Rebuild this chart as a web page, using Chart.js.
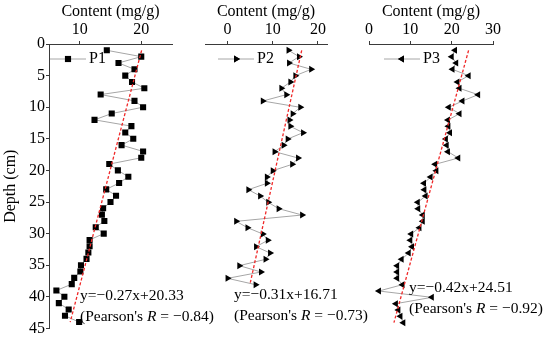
<!DOCTYPE html>
<html>
<head>
<meta charset="utf-8">
<script src="https://cdn.jsdelivr.net/npm/chart.js@4.4.0/dist/chart.umd.min.js"></script>
<style>
  html, body { margin: 0; padding: 0; background: #fff; }
  #wrap { position: relative; width: 550px; height: 339px; }
  #wrap canvas { position: absolute; left: 0; top: 0; }
</style>
</head>
<body>
<div id="wrap">
  <canvas id="c1" width="550" height="339"></canvas>
  <canvas id="c2" width="550" height="339"></canvas>
  <canvas id="c3" width="550" height="339"></canvas>
</div>
<script>
// depth (cm) of each sample
const depthP1 = [1,2,3,4,5,6,7,8,9,10,11,12,13,14,15,16,17,18,19,20,21,22,23,24,25,26,27,28,29,30,31,32,33,34,35,36,37,38,39,40,41,42,43,44];
const depthP2 = [1,2,3,4,5,6,7,8,9,10,11,12,13,14,15,16,17,18,19,20,21,22,23,24,25,26,27,28,29,30,31,32,33,34,35,36,37,38];
const depthP3 = [1,2,3,4,5,6,7,8,9,10,11,12,13,14,15,16,17,18,19,20,21,22,23,24,25,26,27,28,29,30,31,32,33,34,35,36,37,38,39,40,41,42,43,44];

// content (mg/g)
const contentP1 = [14.4,20.0,16.3,18.9,17.4,18.5,20.5,13.4,18.9,20.3,15.2,12.4,18.4,17.4,18.7,16.8,20.3,20.0,14.8,16.2,
  17.9,16.4,14.3,15.9,15.0,13.8,13.6,14.0,12.6,13.9,11.6,11.6,11.4,11.1,10.2,10.1,9.1,8.7,6.2,7.5,6.6,8.2,7.6,9.9];
const contentP2 = [13.5,15.8,13.6,18.5,15.0,13.9,11.9,13.0,7.8,16.1,14.4,13.7,13.9,16.7,13.3,12.4,10.4,15.6,14.3,10.0,
  8.7,8.7,4.6,7.2,9.0,11.3,16.5,1.9,4.4,7.8,8.9,6.3,9.4,8.4,2.6,7.4,0.0,6.2];
const contentP3 = [20.8,20.0,21.1,20.2,24.1,21.4,21.9,26.4,22.6,19.3,21.9,19.1,19.2,19.6,18.6,18.8,19.1,21.6,16.0,16.3,
  14.9,13.3,13.4,13.7,11.8,11.9,13.0,13.0,12.2,10.2,10.0,10.4,9.6,7.9,6.8,6.8,6.8,8.1,2.4,15.2,6.5,7.1,7.6,8.3];

// linear fits printed on the figure: content = slope * depth + intercept
const fitSlope = [-0.27, -0.31, -0.42];
const fitIntercept = [20.33, 16.71, 24.51];
const pearsonR = ['−0.84', '−0.73', '−0.92'];

const xTicksP1 = [10, 20];
const xTicksP2 = [0, 10, 20];
const xTicksP3 = [0, 10, 20, 30];
const depthTicks = [0, 5, 10, 15, 20, 25, 30, 35, 40, 45];

const SERIF = "'Liberation Serif', 'Times New Roman', serif";
const INK = '#000';
const AXIS = '#3a3a3a';

function fmt(v) { return v.toFixed(2); }

// legend + equation text
const textPlugin = {
  id: 'panelText',
  afterDraw(chart) {
    const o = chart.options.plugins.panelText;
    const ctx = chart.ctx;
    const ca = chart.chartArea;
    ctx.save();
    // legend
    const ly = 59;
    const lx = ca.left + o.legendDx;
    ctx.strokeStyle = '#a6a6a6';
    ctx.lineWidth = 1;
    ctx.beginPath();
    ctx.moveTo(lx, ly);
    ctx.lineTo(lx + 36, ly);
    ctx.stroke();
    ctx.fillStyle = '#000';
    Chart.helpers.drawPoint(ctx, { pointStyle: o.style, rotation: o.rot, radius: o.radius, borderWidth: 0 }, lx + 18, ly);
    ctx.fill();
    ctx.font = '16px ' + SERIF;
    ctx.textBaseline = 'middle';
    ctx.textAlign = 'left';
    ctx.fillStyle = INK;
    ctx.fillText(o.name, lx + 39, ly);

    // equation
    const i = o.idx;
    const b = fitIntercept[i];
    const a = fitSlope[i];
    ctx.font = '15.5px ' + SERIF;
    ctx.fillText('y=−' + fmt(-a) + 'x+' + fmt(b), o.eqX, o.eqY);
    let x = o.eqX;
    const y2 = o.eqY + 21;
    const p1 = "(Pearson's ";
    ctx.fillText(p1, x, y2);
    x += ctx.measureText(p1).width;
    ctx.font = 'italic 15.5px ' + SERIF;
    ctx.fillText('R', x, y2);
    x += ctx.measureText('R').width;
    ctx.font = '15.5px ' + SERIF;
    ctx.fillText(' = ' + pearsonR[i] + ')', x, y2);
    ctx.restore();
  }
};

function makePanel(id, p) {
  const pts = p.depth.map((d, i) => ({ x: p.content[i], y: d }));
  const d0 = p.depth[0], d1 = p.depth[p.depth.length - 1];
  const a = fitSlope[p.idx], b = fitIntercept[p.idx];
  const fit = [{ x: a * d0 + b, y: d0 }, { x: a * d1 + b, y: d1 }];

  return new Chart(document.getElementById(id), {
    type: 'scatter',
    data: {
      datasets: [
        {
          label: p.name,
          data: pts,
          showLine: true,
          borderColor: '#a6a6a6',
          borderWidth: 1,
          pointStyle: p.style,
          rotation: p.rot,
          pointRadius: p.radius,
          pointBackgroundColor: '#000',
          pointBorderColor: '#000',
          pointBorderWidth: 0,
          order: 1
        },
        {
          label: 'fit',
          data: fit,
          showLine: true,
          borderColor: '#f02828',
          borderWidth: 1.3,
          borderDash: [3, 2],
          pointRadius: 0,
          order: 0
        }
      ]
    },
    options: {
      responsive: false,
      animation: false,
      events: [],
      layout: { padding: { left: p.padL, right: p.padR, top: 0, bottom: 10 } },
      plugins: {
        legend: { display: false },
        tooltip: { enabled: false },
        panelText: { name: p.name, idx: p.idx, style: p.style, rot: p.rot, radius: p.radius,
                     legendDx: p.legendDx, eqX: p.eqX, eqY: p.eqY }
      },
      scales: {
        x: {
          type: 'linear',
          position: 'top',
          min: p.xmin,
          max: p.xmax,
          afterBuildTicks: s => { s.ticks = p.ticks.map(v => ({ value: v })); },
          afterFit: s => { s.height = 44; },
          grid: { drawOnChartArea: false, tickLength: 3, color: AXIS },
          border: { color: AXIS, width: 1 },
          ticks: { color: INK, font: { family: SERIF, size: 16 }, padding: 2, maxRotation: 0 },
          title: { display: true, text: 'Content (mg/g)', color: INK,
                   font: { family: SERIF, size: 16 }, padding: { top: 2, bottom: 0 } }
        },
        y: {
          type: 'linear',
          reverse: true,
          min: 0,
          max: 45,
          display: p.showY,
          afterBuildTicks: s => { s.ticks = depthTicks.map(v => ({ value: v })); },
          afterFit: s => { s.width = p.showY ? 49 : 0; },
          grid: { drawOnChartArea: false, tickLength: 3, color: AXIS },
          border: { color: AXIS, width: 1 },
          ticks: { color: INK, font: { family: SERIF, size: 16 }, padding: 1 },
          title: { display: true, text: 'Depth (cm)', color: INK,
                   font: { family: SERIF, size: 16 }, padding: { top: 1.5, bottom: 0 } }
        }
      }
    },
    plugins: [textPlugin]
  });
}

makePanel('c1', { name: 'P1', idx: 0, depth: depthP1, content: contentP1, style: 'rect', rot: 0, radius: 4.3,
  xmin: 5, xmax: 25, ticks: xTicksP1, showY: true, padL: 0, padR: 378, legendDx: 1, eqX: 80, eqY: 296 });
makePanel('c2', { name: 'P2', idx: 1, depth: depthP2, content: contentP2, style: 'triangle', rot: 90, radius: 4,
  xmin: -5, xmax: 22, ticks: xTicksP2, showY: false, padL: 205, padR: 223, legendDx: 13, eqX: 234, eqY: 295 });
makePanel('c3', { name: 'P3', idx: 2, depth: depthP3, content: contentP3, style: 'triangle', rot: 270, radius: 4,
  xmin: 0, xmax: 30, ticks: xTicksP3, showY: false, padL: 369, padR: 57, legendDx: 15, eqX: 409, eqY: 288 });
</script>
</body>
</html>
